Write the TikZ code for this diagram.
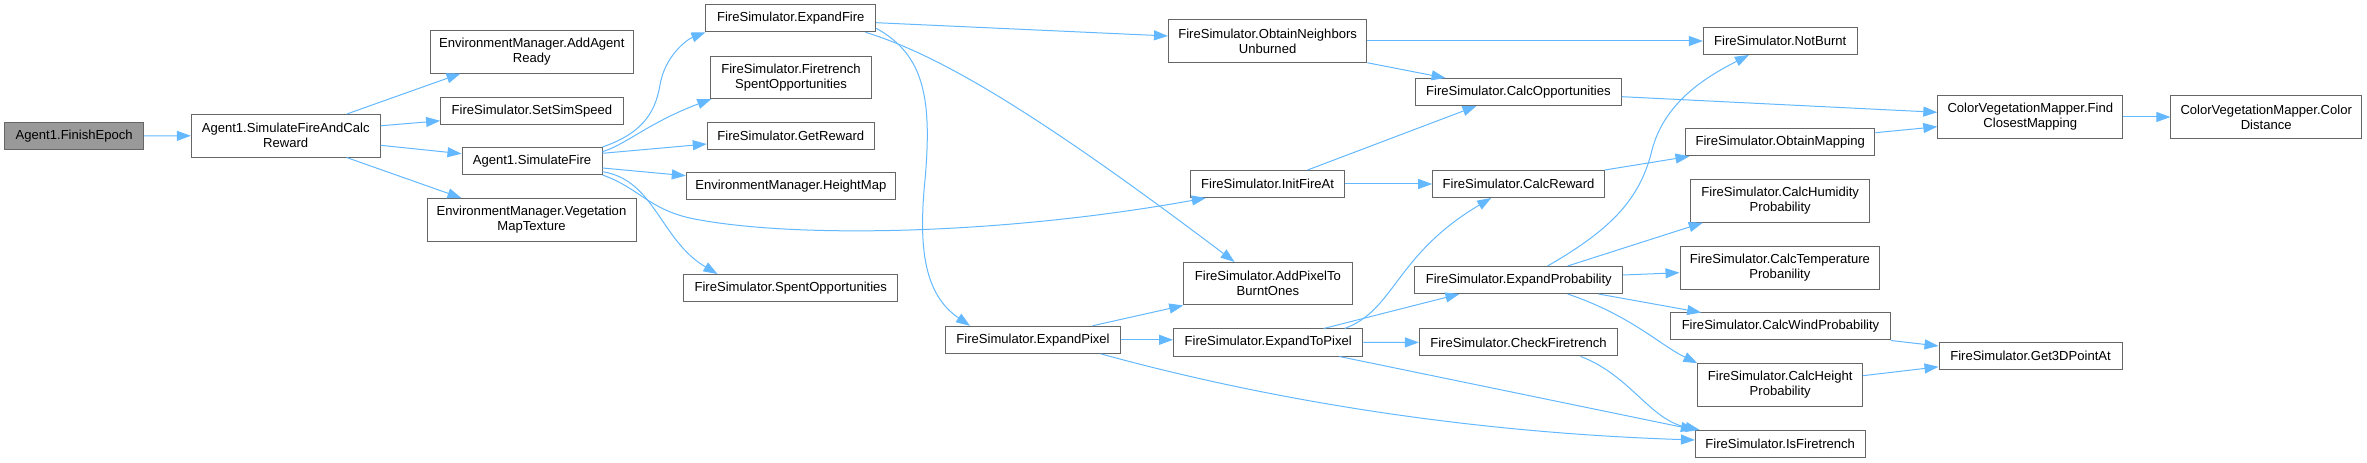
\documentclass[tikz,border=0pt]{standalone}
\usepackage{fontspec}
\setmainfont{Liberation Sans}
\usetikzlibrary{arrows.meta,calc}
\definecolor{edgeblue}{HTML}{63B8FF}
\definecolor{boxgray}{HTML}{666666}
\definecolor{rootgray}{HTML}{999999}
\begin{document}
\begin{tikzpicture}[x=0.75pt,y=-0.75pt,
  bx/.style 2 args={draw=boxgray, line width=0.75pt, fill=white, rectangle, inner sep=0pt,
    minimum width=#1*0.75pt, minimum height=#2*0.75pt, align=center,
    font=\fontsize{9.8}{11.25}\selectfont, text=black},
  edge/.style={draw=edgeblue, line width=0.75pt, -{Triangle[length=10.5pt,width=7.5pt]}}]
\useasboundingbox (0,0) rectangle (2367,463);

% rank 0-2
\node[bx={139}{27}, fill=rootgray] (fe) at (74.2,136) {Agent1.FinishEpoch};
\node[bx={188.7}{42.5}] (sfacr) at (285.7,135.8) {Agent1.SimulateFireAndCalc\\Reward};
\node[bx={203.5}{42.5}] (aar) at (531.8,51.8) {EnvironmentManager.AddAgent\\Ready};
\node[bx={182.6}{27}] (sss) at (531.9,110.8) {FireSimulator.SetSimSpeed};
\node[bx={140}{27}] (sf) at (532,161) {Agent1.SimulateFire};
\node[bx={209}{42.5}] (vmt) at (531.5,219.8) {EnvironmentManager.Vegetation\\MapTexture};
% rank 3
\node[bx={169.7}{27}] (ef) at (790.8,18.3) {FireSimulator.ExpandFire};
\node[bx={161.3}{42.5}] (fso) at (791,77.3) {FireSimulator.Firetrench\\SpentOpportunities};
\node[bx={167}{27}] (gr) at (790.8,136) {FireSimulator.GetReward};
\node[bx={209}{27}] (hm) at (790.8,186.3) {EnvironmentManager.HeightMap};
\node[bx={213.7}{27}] (so) at (790.8,288) {FireSimulator.SpentOpportunities};
% rank 4
\node[bx={175}{27}] (ep) at (1033,339.8) {FireSimulator.ExpandPixel};
% rank 5
\node[bx={198.4}{42.5}] (onu) at (1267.6,41) {FireSimulator.ObtainNeighbors\\Unburned};
\node[bx={154.6}{27}] (ifa) at (1267.6,184) {FireSimulator.InitFireAt};
\node[bx={168.3}{42.5}] (ap) at (1267.9,283.7) {FireSimulator.AddPixelTo\\BurntOnes};
\node[bx={189.3}{27}] (etp) at (1268.2,342.5) {FireSimulator.ExpandToPixel};
% rank 6
\node[bx={206}{27}] (co) at (1518.4,92) {FireSimulator.CalcOpportunities};
\node[bx={171.6}{27}] (cr) at (1518.5,184) {FireSimulator.CalcReward};
\node[bx={207.7}{27}] (epr) at (1518.8,280) {FireSimulator.ExpandProbability};
\node[bx={198.3}{27}] (cf) at (1518.5,342.4) {FireSimulator.CheckFiretrench};
% rank 7
\node[bx={153.6}{27}] (nb) at (1780.2,41) {FireSimulator.NotBurnt};
\node[bx={189.4}{27}] (om) at (1780.2,142.3) {FireSimulator.ObtainMapping};
\node[bx={179.5}{42.5}] (chp) at (1780.2,201) {FireSimulator.CalcHumidity\\Probability};
\node[bx={199.8}{42.5}] (ctp) at (1779.9,267.8) {FireSimulator.CalcTemperature\\Probanility};
\node[bx={219.6}{27}] (cwp) at (1780.5,326.5) {FireSimulator.CalcWindProbability};
\node[bx={164.6}{42.5}] (chtp) at (1780.2,385) {FireSimulator.CalcHeight\\Probability};
\node[bx={169.6}{27}] (ift) at (1780.2,443.8) {FireSimulator.IsFiretrench};
% rank 8-9
\node[bx={185}{42.5}] (fcm) at (2030.3,117) {ColorVegetationMapper.Find\\ClosestMapping};
\node[bx={183}{27}] (g3d) at (2030.5,355.8) {FireSimulator.Get3DPointAt};
\node[bx={190.6}{42.5}] (cd) at (2266.2,117) {ColorVegetationMapper.Color\\Distance};

% edges
\draw[edge] (fe.east) -- (sfacr.west);
\draw[edge] ($(sfacr.north)+(61,0)$) -- ($(aar.south west)+(31,0)$);
\draw[edge] ($(sfacr.east)+(0,-10)$) -- ($(sss.west)+(0,10)$);
\draw[edge] ($(sfacr.east)+(0,9.5)$) -- ($(sf.west)+(0,-7.3)$);
\draw[edge] ($(sfacr.south)+(61,0)$) -- ($(vmt.north west)+(35,0)$);

\draw[edge] (sf.north east) .. controls (640,134) and (655,115) .. (660,85) .. controls (665,55) and (688,39) .. (ef.south west);
\draw[edge] ($(sf.east)+(0,-9.3)$) .. controls (625,145) and (650,122) .. ($(fso.south west)+(1.5,0)$);
\draw[edge] ($(sf.east)+(0,-7.7)$) -- ($(gr.west)+(0,8)$);
\draw[edge] ($(sf.east)+(0,7)$) -- ($(hm.west)+(0,-10.6)$);
\draw[edge] (sf.south east) .. controls (640,188) and (650,212) .. (700,220) .. controls (800,238) and (1000,235) .. ($(ifa.south west)+(16,0)$);
\draw[edge] ($(sf.east)+(0,10.7)$) .. controls (655,180) and (660,240) .. ($(so.north west)+(34,0)$);

\draw[edge] ($(ef.east)+(0,4.4)$) -- ($(onu.west)+(0,-5)$);
\draw[edge] ($(ef.south east)+(-10.7,0)$) .. controls (940,55) and (1040,115) .. ($(ap.north west)+(51.3,0)$);
\draw[edge] ($(ef.east)+(0,10)$) .. controls (925,55) and (932,100) .. (925,180) .. controls (918,250) and (925,295) .. ($(ep.north west)+(25,0)$);

\draw[edge] (onu.east) -- (nb.west);
\draw[edge] (onu.south east) -- ($(co.north west)+(30.6,0)$);
\draw[edge] ($(co.east)+(0,4.7)$) -- ($(fcm.west)+(0,-4.7)$);
\draw[edge] (fcm.east) -- (cd.west);
\draw[edge] ($(ifa.north)+(40,0)$) -- ($(co.south west)+(61.6,0)$);
\draw[edge] (ifa.east) -- (cr.west);
\draw[edge] (cr.north east) -- ($(om.south west)+(4.5,0)$);
\draw[edge] ($(om.east)+(0,-9.6)$) -- ($(fcm.west)+(0,9.7)$);

\draw[edge] ($(ep.north east)+(-28.6,0)$) -- (ap.south west);
\draw[edge] (ep.east) -- (ep.east -| etp.west);
\draw[edge] ($(ep.south east)+(-20.4,0)$) .. controls (1250,395) and (1450,432) .. ($(ift.west)+(0,-3.8)$);

\draw[edge] ($(etp.north east)+(-18.8,0)$) .. controls (1395,310) and (1395,255) .. ($(cr.south west)+(59,0)$);
\draw[edge] ($(etp.north)+(55.5,0)$) -- ($(epr.south west)+(45,0)$);
\draw[edge] (etp.east) -- (cf.west);
\draw[edge] ($(etp.south east)+(-24,0)$) -- (ift.north west);

\draw[edge] ($(epr.north)+(28.8,0)$) .. controls (1610,230) and (1640,200) .. (1652,150) .. controls (1665,100) and (1710,75) .. ($(nb.south west)+(46,0)$);
\draw[edge] ($(epr.north)+(48.8,0)$) -- ($(chp.south west)+(12.8,0)$);
\draw[edge] ($(epr.east)+(0,-5)$) -- ($(ctp.west)+(0,4.9)$);
\draw[edge] ($(epr.south east)+(-24.7,0)$) -- ($(cwp.north west)+(31,0)$);
\draw[edge] ($(epr.south)+(48.8,0)$) .. controls (1630,315) and (1660,345) .. (chtp.north west);

\draw[edge] (cwp.south east) -- ($(g3d.west)+(0,-9.8)$);
\draw[edge] ($(chtp.east)+(0,-9.3)$) -- ($(g3d.west)+(0,11)$);
\draw[edge] ($(cf.south east)+(-37.7,0)$) .. controls (1630,375) and (1650,420) .. ($(ift.north west)+(4.6,0)$);
\end{tikzpicture}
\end{document}
